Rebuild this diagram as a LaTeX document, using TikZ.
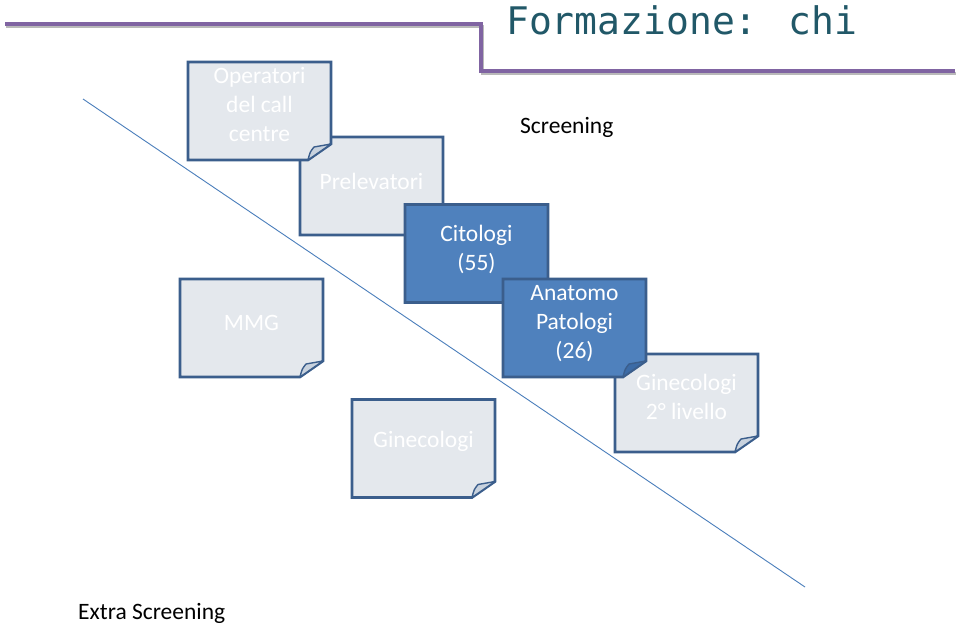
\documentclass[tikz,border=0pt]{standalone}
\usepackage{fontspec}
\setmainfont{Carlito}
\newfontfamily\monof{DejaVu Sans Mono}
\definecolor{grayfill}{HTML}{E4E8ED}
\definecolor{grayflap}{HTML}{C8D2DE}
\definecolor{bordercol}{HTML}{3B5E8C}
\definecolor{bluefill}{HTML}{4F81BD}
\definecolor{blueflap}{HTML}{3C6BA6}
\definecolor{titlecol}{HTML}{215868}
\definecolor{purplecol}{HTML}{8064A2}
\definecolor{diagcol}{HTML}{4A7EBB}
\newcommand\drawpaper[3]{%
  \filldraw[fill=#2,draw=bordercol,line width=2.6pt,line join=miter]
    (#1.north west) -- (#1.north east) -- ([yshift=16pt]#1.south east)
    -- ([xshift=-23pt]#1.south east) -- (#1.south west) -- cycle;
  \filldraw[fill=#3,draw=bordercol,line width=1.4pt,line join=round]
    ([xshift=-23pt]#1.south east) .. controls ([xshift=-21pt,yshift=8pt]#1.south east)
    .. ([xshift=-17pt,yshift=13pt]#1.south east) .. controls ([xshift=-9pt,yshift=15pt]#1.south east)
    .. ([yshift=16pt]#1.south east) -- cycle;
}
\begin{document}
\begin{tikzpicture}[x=1pt,y=-1pt,
  paper/.style={minimum width=143pt,minimum height=98pt,inner sep=0pt,outer sep=0pt},
  ptext/.style={align=center,text=white,font=\fontsize{23.5}{29}\selectfont,inner sep=0pt},
  label/.style={text=black,font=\fontsize{23.5}{28}\selectfont,inner sep=0pt}]
\useasboundingbox (0,0) rectangle (960,627);
\fill[white] (0,0) rectangle (960,627);
% header line
\coordinate (h1) at (5,24);
\coordinate (h2) at (481,24);
\coordinate (h3) at (481,71);
\coordinate (h4) at (955,71);
\draw[gray!55,line width=3pt] ([xshift=1pt,yshift=-2.5pt]h1) -- ([xshift=1pt,yshift=-2.5pt]h2) -- ([xshift=1pt,yshift=-2.5pt]h3) -- ([xshift=1pt,yshift=-2.5pt]h4);
\draw[purplecol,line width=4pt] (h1) -- (h2) -- (h3) -- (h4);
\node[anchor=west,text=titlecol,font=\monof\fontsize{38}{40}\selectfont,inner sep=0pt] (title) at (506,20) {Formazione: chi};
% diagonal
\coordinate (d1) at (83,99);
\coordinate (d2) at (805,587);
\draw[diagcol,line width=0.9pt] (d1) -- (d2);
% boxes
\node[paper] (gin2) at (686.5,403) {};
\drawpaper{gin2}{grayfill}{grayflap}
\node[ptext] at ([yshift=6pt]gin2.center) {Ginecologi\\2° livello};
\node[paper] (prel) at (371.5,186) {};
\drawpaper{prel}{grayfill}{grayflap}
\node[ptext] at ([yshift=5pt]prel.center) {Prelevatori};
\node[paper] (op) at (259.5,111) {};
\drawpaper{op}{grayfill}{grayflap}
\node[ptext] at ([yshift=7pt]op.center) {Operatori\\del call\\centre};
\node[paper] (cit) at (476.5,253.5) {};
\drawpaper{cit}{bluefill}{blueflap}
\node[ptext] at ([yshift=4pt]cit.center) {Citologi\\(55)};
\node[paper] (anat) at (574.5,328) {};
\drawpaper{anat}{bluefill}{blueflap}
\node[ptext] at ([yshift=4pt]anat.center) {Anatomo\\Patologi\\(26)};
\node[paper] (mmg) at (251.5,328) {};
\drawpaper{mmg}{grayfill}{grayflap}
\node[ptext] at ([yshift=5pt]mmg.center) {MMG};
\node[paper] (gin) at (423.5,448.5) {};
\drawpaper{gin}{grayfill}{grayflap}
\node[ptext] at ([yshift=7pt]gin.center) {Ginecologi};
% labels
\node[label,anchor=west] (scr) at (520,127) {Screening};
\node[label,anchor=west] (extra) at (78,613) {Extra Screening};
\end{tikzpicture}
\end{document}
